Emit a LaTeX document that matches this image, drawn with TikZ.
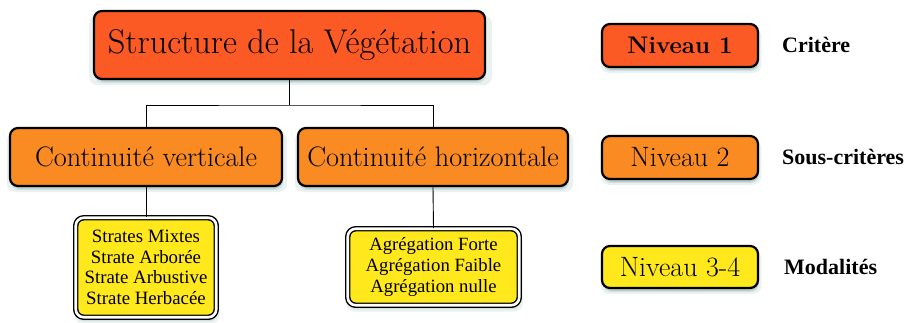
\documentclass[tikz,border=0pt]{standalone}
\usepackage{fontspec}
\newfontfamily\cambria{Liberation Serif}
\usetikzlibrary{shadows}
\definecolor{lvlA}{HTML}{FB5A24}
\definecolor{lvlB}{HTML}{F98B22}
\definecolor{lvlC}{HTML}{FFE81C}
\definecolor{shad}{HTML}{5E8E8E}
\tikzset{
  softshadow/.style={
    general shadow={shadow xshift=1pt, shadow yshift=-5pt, fill=shad, opacity=0.12, shadow scale=1.03},
    general shadow={shadow xshift=1pt, shadow yshift=-4pt, fill=shad, opacity=0.18},
    general shadow={shadow xshift=1pt, shadow yshift=-3pt, fill=shad, opacity=0.25, shadow scale=0.99}},
  boxbase/.style={draw=black, line width=2.2pt, rounded corners=8pt, inner sep=0pt, align=center, softshadow},
  critbox/.style={boxbase, fill=lvlA},
  subbox/.style={boxbase, fill=lvlB},
  modbox/.style={draw=black, line width=1.4pt, double=white, double distance=2.6pt, fill=lvlC,
     rounded corners=8pt, inner sep=0pt, align=center, softshadow},
  link/.style={draw=black, line width=0.9pt},
  legendlabel/.style={anchor=west, font=\cambria\bfseries\fontsize{22}{24}\selectfont, inner sep=0pt}
}
\begin{document}
\begin{tikzpicture}[x=1pt,y=-1pt]
\useasboundingbox (0,0) rectangle (911,322);
% main hierarchy
\node[critbox, minimum width=391pt, minimum height=68pt, font=\fontsize{34.3}{38}\selectfont] (top) at (289.5,45) {Structure de la Végétation};
\node[subbox, minimum width=272pt, minimum height=58pt, font=\fontsize{28.2}{32}\selectfont] (cv) at (146,157) {Continuité verticale};
\node[subbox, minimum width=270pt, minimum height=58pt, font=\fontsize{28.2}{32}\selectfont] (ch) at (433,157) {Continuité horizontale};
\node[modbox, minimum width=140.5pt, minimum height=99.5pt, font=\cambria\fontsize{18.8}{20.7}\selectfont] (mv) at (146,267.5)
  {Strates Mixtes\\Strate Arborée\\Strate Arbustive\\Strate Herbacée};
\node[modbox, minimum width=171.5pt, minimum height=76.5pt, font=\cambria\fontsize{18.7}{21}\selectfont] (mh) at (433.5,267)
  {Agrégation Forte\\Agrégation Faible\\Agrégation nulle};
% connectors
\coordinate (bus) at (289.5,105);
\draw[link] (top.south) -- (bus);
\draw[link] (cv.north) |- (bus) -| (ch.north);
\draw[link] (cv.south) -- (mv.north);
\draw[link] (ch.south) -- (mh.north);
% legend
\node[critbox, minimum width=156pt, minimum height=43pt, font=\bfseries\fontsize{24}{26}\selectfont] (n1) at (680,45.5) {Niveau 1};
\node[subbox, minimum width=156pt, minimum height=43pt, font=\fontsize{28}{30}\selectfont] (n2) at (680,157.5) {Niveau 2};
\node[boxbase, fill=lvlC, minimum width=156pt, minimum height=42pt, font=\fontsize{28}{30}\selectfont] (n3) at (680,267) {Niveau 3-4};
\node[legendlabel] (l1) at (782,45) {Critère};
\node[legendlabel] (l2) at (782,157) {Sous-critères};
\node[legendlabel] (l3) at (784,267) {Modalités};
\end{tikzpicture}
\end{document}
